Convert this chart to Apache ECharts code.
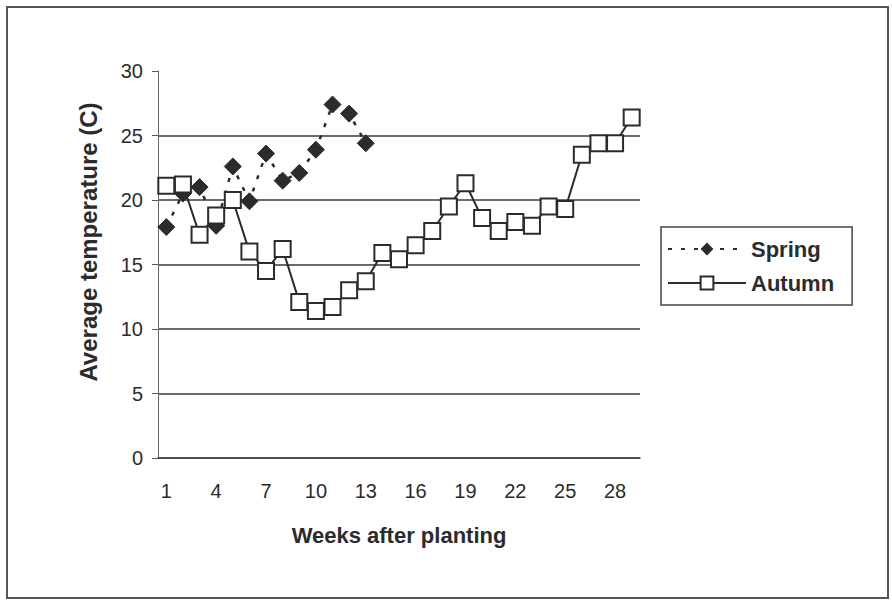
<!DOCTYPE html>
<html>
<head>
<meta charset="utf-8">
<script src="https://cdn.jsdelivr.net/npm/echarts@6/dist/echarts.min.js"></script>
<style>
  html, body { margin: 0; padding: 0; background: #fff; }
  #chart { width: 892px; height: 600px; }
</style>
</head>
<body>
<div id="chart"></div>
<script>
// weeks after planting
var weeks = ['1','2','3','4','5','6','7','8','9','10','11','12','13','14','15',
  '16','17','18','19','20','21','22','23','24','25','26','27','28','29']
// average temperature (C)
var spring = [17.9, 20.5, 21.0, 18.0, 22.6, 19.9, 23.6, 21.5, 22.1, 23.9, 27.4, 26.7, 24.4]
var autumn = [21.1, 21.2, 17.3, 18.8, 20.0, 16.0, 14.5, 16.2, 12.1, 11.4, 11.7, 13.0, 13.7, 15.9,
  15.4, 16.5, 17.6, 19.5, 21.3, 18.6, 17.6, 18.3, 18.0, 19.5, 19.3, 23.5, 24.4, 24.4, 26.4]
var seriesNames = ['Spring', 'Autumn']

var ink = '#2b2b2b'
var font = '"Liberation Sans", Arial, sans-serif'

var chart = echarts.init(document.getElementById('chart'), null, { renderer: 'svg' })
chart.setOption({
  backgroundColor: '#fff',
  animation: false,
  graphic: [
    {
      type: 'rect',
      shape: { x: 7, y: 7, width: 881, height: 591 },
      style: { fill: 'none', stroke: '#555', lineWidth: 2 }
    },
    {
      type: 'text',
      x: 88,
      y: 242,
      rotation: Math.PI / 2,
      style: {
        text: 'Average temperature (C)',
        fontFamily: font,
        fontSize: 24,
        fontWeight: 'bold',
        fill: ink,
        align: 'center',
        verticalAlign: 'middle'
      }
    }
  ],
  grid: {
    left: 158,
    right: 252,
    top: 71,
    bottom: 142
  },
  legend: {
    data: seriesNames,
    orient: 'vertical',
    left: 661,
    top: 227,
    padding: [11, 18, 11, 6],
    itemWidth: 78,
    itemHeight: 16,
    itemGap: 12,
    borderColor: '#444',
    borderWidth: 1.5,
    textStyle: {
      fontFamily: font,
      fontSize: 22,
      fontWeight: 'bold',
      color: ink
    }
  },
  xAxis: {
    type: 'category',
    data: weeks,
    boundaryGap: true,
    name: 'Weeks after planting',
    nameLocation: 'middle',
    nameGap: 66,
    nameTextStyle: {
      fontFamily: font,
      fontSize: 22,
      fontWeight: 'bold',
      color: ink
    },
    axisLine: { lineStyle: { color: '#444', width: 1.5 } },
    axisTick: { interval: 0, length: 5, lineStyle: { color: '#555' } },
    axisLabel: {
      interval: 2,
      margin: 23,
      fontFamily: font,
      fontSize: 20,
      color: ink
    }
  },
  yAxis: {
    type: 'value',
    min: 0,
    max: 30,
    interval: 5,
    axisLine: { show: true, lineStyle: { color: '#666', width: 1 } },
    axisTick: { show: true, length: 6, lineStyle: { color: '#555' } },
    axisLabel: {
      margin: 15,
      fontFamily: font,
      fontSize: 20,
      color: ink
    },
    splitLine: {
      show: true,
      showMaxLine: false,
      lineStyle: { color: '#3a3a3a', width: 1.5 }
    }
  },
  series: [
    {
      name: 'Spring',
      type: 'line',
      data: spring,
      symbol: 'diamond',
      symbolSize: 17,
      showAllSymbol: true,
      itemStyle: { color: ink, borderColor: ink },
      lineStyle: { color: ink, width: 2.5, type: [4, 9] }
    },
    {
      name: 'Autumn',
      type: 'line',
      data: autumn,
      symbol: 'rect',
      symbolSize: 16,
      showAllSymbol: true,
      itemStyle: { color: '#fff', borderColor: ink, borderWidth: 2 },
      lineStyle: { color: ink, width: 2 }
    }
  ]
})
</script>
</body>
</html>
